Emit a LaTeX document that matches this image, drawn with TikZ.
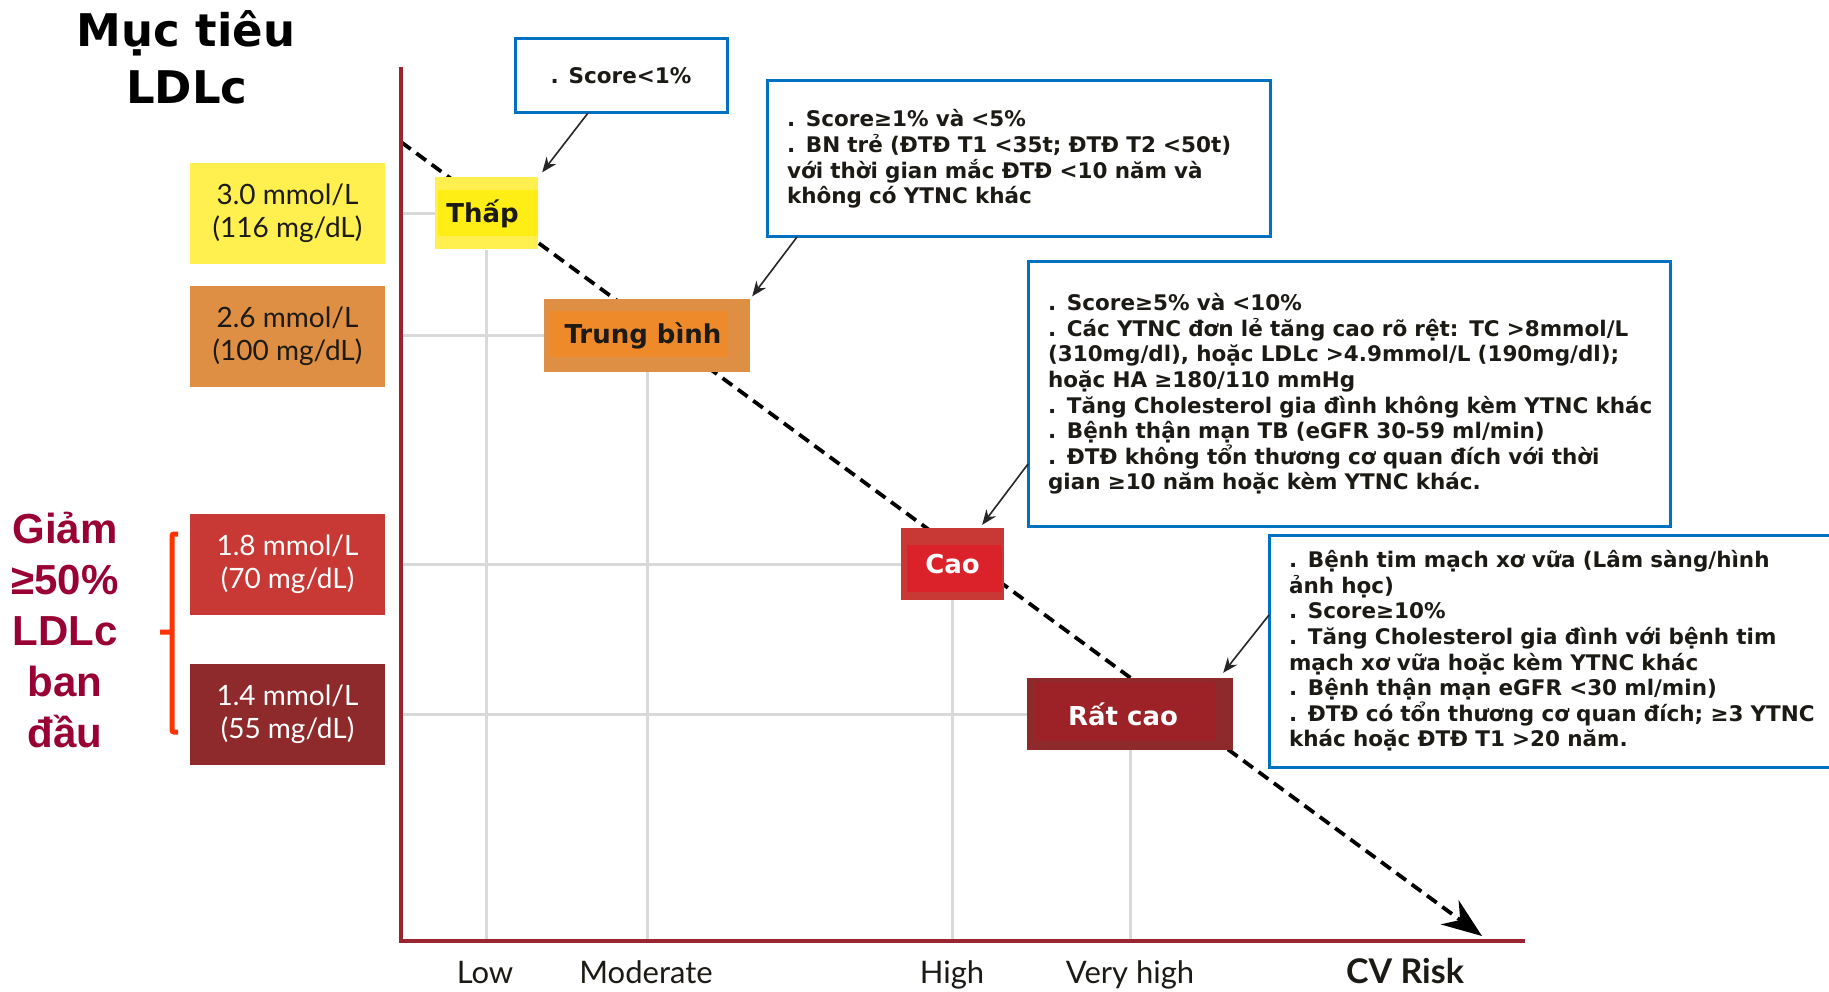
\documentclass[tikz,border=0pt]{standalone}
\usepackage{fontspec}
\usepackage{xcolor}
\usepackage{tikz}
\usetikzlibrary{arrows.meta,positioning,calc,backgrounds}

\newfontfamily\vnfont{DejaVu Sans}
\newfontfamily\gillfont{Lato}
\newfontfamily\arialfont{Liberation Sans}

\definecolor{axisred}{HTML}{9A2530}
\definecolor{gridgray}{HTML}{D9D9D9}
\definecolor{calloutblue}{HTML}{0070C0}
\definecolor{lowout}{HTML}{FFEF4F}
\definecolor{lowin}{HTML}{FFEE16}
\definecolor{modout}{HTML}{DF8F43}
\definecolor{modin}{HTML}{EE8A2A}
\definecolor{highout}{HTML}{C83834}
\definecolor{highin}{HTML}{DB222B}
\definecolor{vhighout}{HTML}{8E2A2B}
\definecolor{vhighin}{HTML}{9C2227}
\definecolor{textdark}{HTML}{1C1A14}
\definecolor{maroontext}{HTML}{990033}
\definecolor{bracketred}{HTML}{FF3300}

\tikzset{
  titletext/.style={font=\vnfont\bfseries\fontsize{45pt}{54pt}\selectfont, anchor=base},
  reducetext/.style={font=\arialfont\bfseries\fontsize{42pt}{51pt}\selectfont, text=maroontext, align=center},
  valbox/.style={fill=#1, minimum width=195pt, minimum height=101pt, inner sep=0pt, align=center,
    font=\gillfont\fontsize{28pt}{33pt}\selectfont},
  riskbox/.style n args={6}{fill=#1, minimum height=72pt, inner sep=0pt,
    font=\vnfont\bfseries\fontsize{26pt}{30pt}\selectfont,
    path picture={\fill[#2] ([shift={(#3,#4)}]path picture bounding box.north west)
      rectangle ([shift={(-#5,-#6)}]path picture bounding box.south east);}},
  risklabel/.style={font=\gillfont\fontsize{31pt}{34pt}\selectfont, text=textdark, anchor=base},
  callout/.style={draw=calloutblue, line width=3pt, fill=white, align=left, inner xsep=20pt,
    inner ysep=0pt, outer sep=0pt, text=textdark, font=\vnfont\bfseries\fontsize{21.5pt}{25.6pt}\selectfont},
  pointer/.style={-{Stealth[length=15pt,width=12pt]}, line width=1.6pt, draw=black!85},
  gridline/.style={draw=gridgray, line width=3pt},
  axisline/.style={draw=axisred, line width=4pt},
  riskpath/.style={-{Stealth[length=40pt,width=30pt]}, line width=3.8pt, dash pattern=on 12pt off 7pt},
  bracketline/.style={draw=bracketred, line width=5pt, rounded corners=2pt}
}

\begin{document}
\begin{tikzpicture}[x=1pt,y=-1pt]
\useasboundingbox (0,0) rectangle (1829,992);
\coordinate (O) at (401,941);
\coordinate (ytop) at (401,67);
\coordinate (xend) at (1525,941);
\coordinate (dstart) at (401,142);
\coordinate (dend) at (1482,936);

\node[titletext] (ttl1) at (186,47) {Mục tiêu};
\node[titletext] (ttl2) at (187,104) {LDLc};

\node[reducetext] (giam) at (65,630) {Giảm\\≥50\%\\LDLc\\ban\\đầu};
\draw[bracketline] (178,534) -- (172,534) -- (172,732) -- (178,732) (172,632) -- (160,632);

\draw[axisline] (ytop) -- (O) -- (xend);

\node[valbox=lowout, text=textdark] (v30) at (287.5,213.5) {3.0 mmol/L\\(116 mg/dL)};
\node[valbox=modout, text=textdark] (v26) at (287.5,336.5) {2.6 mmol/L\\(100 mg/dL)};
\node[valbox=highout, text=white] (v18) at (287.5,564) {1.8 mmol/L\\(70 mg/dL)};
\node[valbox=vhighout, text=white] (v14) at (287.5,714) {1.4 mmol/L\\(55 mg/dL)};

\node[riskbox={lowout}{lowin}{3}{13}{0}{13}, minimum width=103pt, text=textdark] (thap) at (486.5,213.5) {\kern-8pt Thấp};
\node[riskbox={modout}{modin}{5}{12}{23}{14}, minimum width=206pt, text=textdark] (trung) at (647,335.5) {\kern-8pt Trung bình};
\node[riskbox={highout}{highin}{6}{17}{2}{8}, minimum width=103pt, text=white] (cao) at (952.5,564) {Cao};
\node[riskbox={vhighout}{vhighin}{8}{4}{18}{9}, minimum width=206pt, text=white] (ratcao) at (1130,714) {\kern-14pt Rất cao};

\node[risklabel] (lbllow) at (485,983) {Low};
\node[risklabel] (lblmod) at (646,983) {Moderate};
\node[risklabel] (lblhigh) at (952,983) {High};
\node[risklabel] (lblvhigh) at (1130,983) {Very high};
\node[risklabel, font=\gillfont\bfseries\fontsize{34pt}{36pt}\selectfont] (lblcv) at (1405,983) {CV Risk};

\node[callout, minimum width=212pt, minimum height=74pt, align=center, anchor=north west] (c1) at (515,39) {. Score<1\%};
\node[callout, text width=463pt, minimum height=156pt, anchor=north west] (c2) at (767,81) {%
. Score≥1\% và <5\%\\
. BN trẻ (ĐTĐ T1 <35t; ĐTĐ T2 <50t)\\
với thời gian mắc ĐTĐ <10 năm và\\
không có YTNC khác};
\node[callout, text width=602pt, minimum height=264pt, anchor=north west] (c3) at (1028,262) {%
. Score≥5\% và <10\%\\
\mbox{. Các YTNC đơn lẻ tăng cao rõ rệt: TC >8mmol/L}\\
\mbox{(310mg/dl), hoặc LDLc >4.9mmol/L (190mg/dl);}\\
hoặc HA ≥180/110 mmHg\\
\mbox{. Tăng Cholesterol gia đình không kèm YTNC khác}\\
. Bệnh thận mạn TB (eGFR 30-59 ml/min)\\
. ĐTĐ không tổn thương cơ quan đích với thời\\
gian ≥10 năm hoặc kèm YTNC khác.};
\node[callout, text width=560pt, minimum height=232pt, anchor=north west] (c4) at (1269,535) {%
. Bệnh tim mạch xơ vữa (Lâm sàng/hình\\
ảnh học)\\
. Score≥10\%\\
. Tăng Cholesterol gia đình với bệnh tim\\
mạch xơ vữa hoặc kèm YTNC khác\\
. Bệnh thận mạn eGFR <30 ml/min)\\
. ĐTĐ có tổn thương cơ quan đích; ≥3 YTNC\\
khác hoặc ĐTĐ T1 >20 năm.};

\draw[pointer] ([xshift=73pt]c1.south west) -- ([shift={(4,-5)}]thap.north east);
\draw[pointer] ([xshift=30pt]c2.south west) -- ([shift={(2,-3)}]trung.north east);
\draw[pointer] ([yshift=62pt]c3.south west) -- ([shift={(-22,-3)}]cao.north east);
\draw[pointer] ([yshift=-80pt]c4.north west) -- ([shift={(-10,-5)}]ratcao.north east);

\begin{scope}[on background layer]
\fill[white] (0,0) rectangle (1829,992);
\draw[gridline] (thap.west) -- (thap.west -| O);
\draw[gridline] (trung.west) -- (trung.west -| O);
\draw[gridline] (cao.west) -- (cao.west -| O);
\draw[gridline] (ratcao.west) -- (ratcao.west -| O);
\draw[gridline] (thap.south) -- (thap.south |- O);
\draw[gridline] (trung.south) -- (trung.south |- O);
\draw[gridline] (cao.south) -- (cao.south |- O);
\draw[gridline] (ratcao.south) -- (ratcao.south |- O);
\draw[riskpath] (dstart) -- (dend);
\end{scope}
\end{tikzpicture}
\end{document}
